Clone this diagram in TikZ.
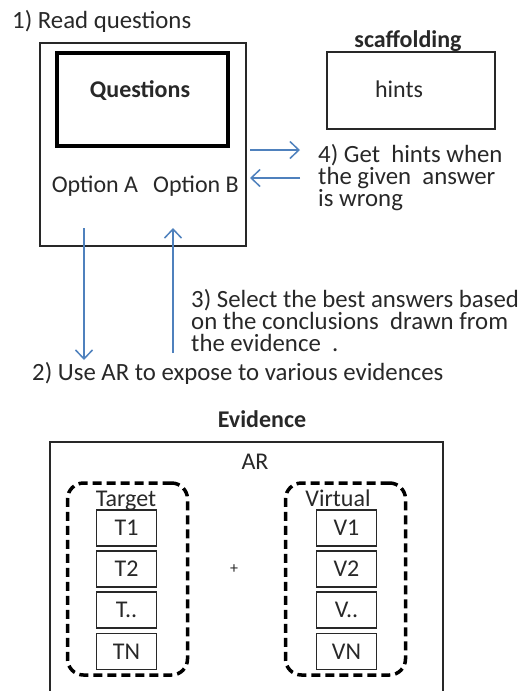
\documentclass[tikz,border=0pt]{standalone}
\usepackage{fontspec}
\setmainfont{Carlito}
\usepackage{tikz}
\usetikzlibrary{arrows.meta,positioning}
\definecolor{arrowblue}{RGB}{79,129,189}
\definecolor{inkgray}{RGB}{40,40,40}
\setlength{\lineskiplimit}{-30pt}

\begin{document}
\begin{tikzpicture}[x=1pt, y=-1pt,
    every node/.style={text=inkgray, font=\fontsize{24}{20}\selectfont},
    box/.style={rectangle, draw=inkgray, line width=1.6pt, inner sep=0pt},
    qbox/.style={box, draw=black, line width=4pt},
    item/.style={box, minimum width=60pt, minimum height=36pt},
    group/.style={rectangle, draw=black, line width=3.5pt, dash pattern=on 9pt off 5pt,
        rounded corners=16pt, minimum width=120pt, minimum height=192pt},
    lbl/.style={anchor=base west, align=left, inner sep=0pt, font=\fontsize{24.8}{22}\selectfont},
    mid/.style={anchor=base, inner sep=0pt},
    title/.style={mid, font=\bfseries\fontsize{24}{20}\selectfont},
    arrow/.style={-{Straight Barb[length=9pt, width=17pt]}, line width=1.5pt, arrowblue}
]
    \useasboundingbox (0,0) rectangle (523,691);

    % question side
    \node[lbl] (step1) at (12,28) {1) Read questions};
    \node[box, minimum width=206pt, minimum height=203pt] (device) at (143,144.5) {};
    \node[qbox, minimum width=171pt, minimum height=93pt] (qbox) at (142.5,99.5) {};
    \node[title] (qtext) at (140,97) {Questions};
    \node[mid] (optA) at (95,192) {Option A};
    \node[mid] (optB) at (196,192) {Option B};

    % scaffolding
    \node[box, minimum width=168pt, minimum height=77pt] (scaf) at (411,90.5) {};
    \node[title] (scaftitle) at (408,47) {scaffolding};
    \node[mid] (hints) at (399,97) {hints};
    % base of a multi-line label = its last line
    \node[lbl] (step4) at (318,206) {4) Get\ \ hints when\\the given\ \ answer\\is wrong};

    \coordinate (hintout) at (250,150);
    \coordinate (hintin) at (300,150);
    \coordinate (hintback) at (300,178);
    \coordinate (hintret) at (250,178);
    \draw[arrow] (hintout) -- (hintin);
    \draw[arrow] (hintback) -- (hintret);

    % to and from the evidence
    \coordinate (exptop) at (84,228);
    \coordinate (expbot) at (84,360);
    \coordinate (selbot) at (173,353);
    \coordinate (seltop) at (173,228);
    \draw[arrow] (exptop) -- (expbot);
    \draw[arrow] (selbot) -- (seltop);

    \node[lbl] (step3) at (191,351) {3) Select the best answers based\\on the conclusions\ \ drawn from\\the evidence\ \ .};
    \node[lbl] (step2) at (32,380) {2) Use AR to expose to various evidences};

    % evidence
    \node[title] (evtitle) at (262,427) {Evidence};
    \draw[draw=inkgray, line width=1.6pt] (50,691) |- (443,442) -- (443,691);
    \node[mid] (ar) at (255,469) {AR};

    \node[group] (targetgrp) at (127.5,579) {};
    \node[group] (virtualgrp) at (345.5,579) {};
    \node[mid] (targetlbl) at (126,506) {Target};
    \node[mid] (virtuallbl) at (338,506) {Virtual};

    \node[item] (t1) at (126.5,528) {T1};
    \node[item, below=3.5pt of t1] (t2) {T2};
    \node[item, below=3.5pt of t2] (tdots) {T..};
    \node[item, below=3.5pt of tdots] (tn) {TN};

    \node[item] (v1) at (346.5,528) {V1};
    \node[item, below=3.5pt of v1] (v2) {V2};
    \node[item, below=3.5pt of v2] (vdots) {V..};
    \node[item, below=3.5pt of vdots] (vn) {VN};

    \node[font=\fontsize{16}{16}\selectfont] (plus) at (234,569) {+};
\end{tikzpicture}
\end{document}
